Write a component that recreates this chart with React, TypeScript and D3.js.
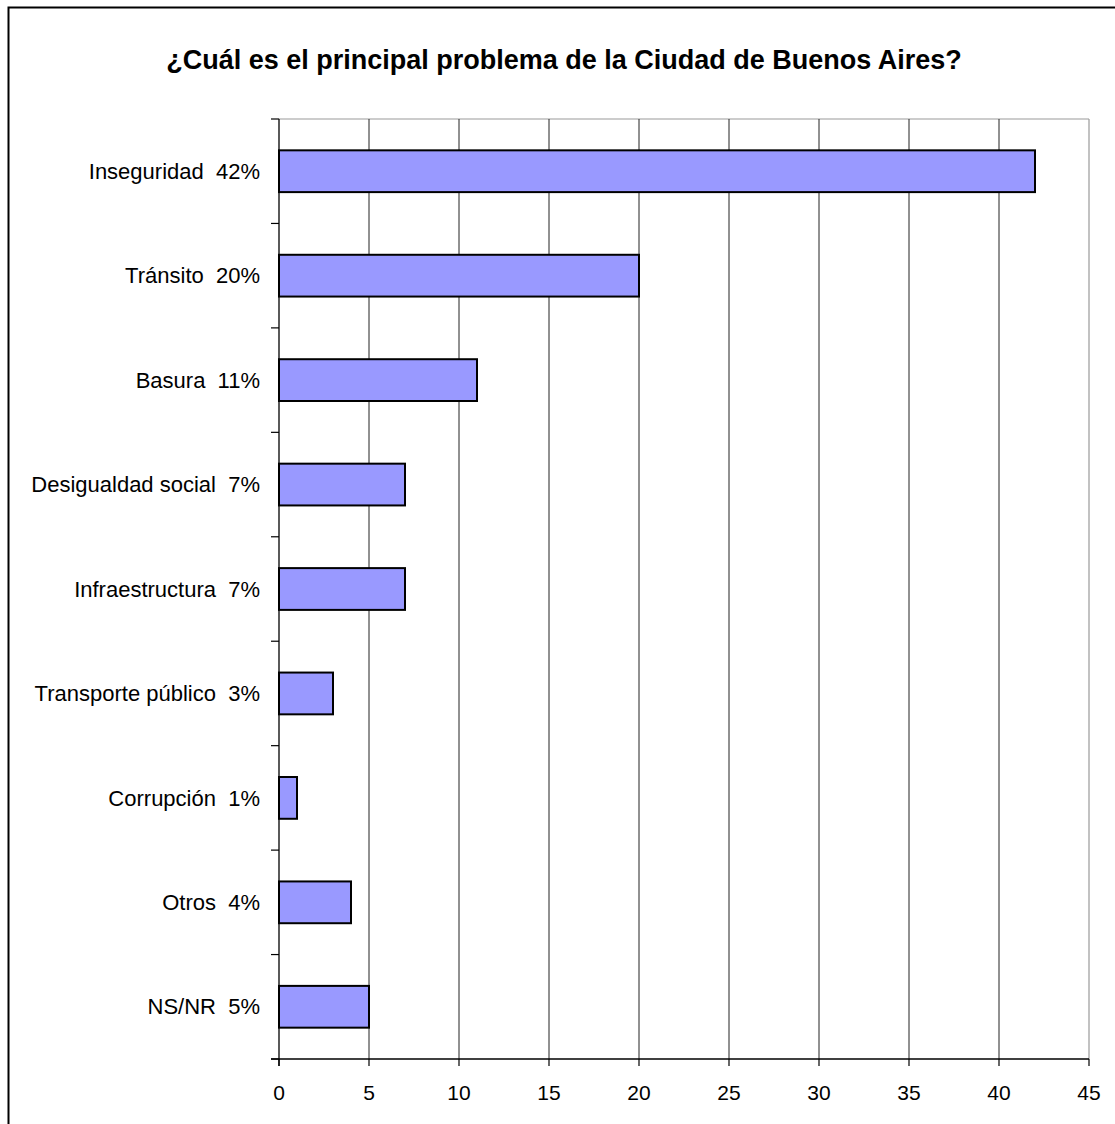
import React from "react";
import * as d3 from "d3";

const categories = [
  "Inseguridad  42%",
  "Tránsito  20%",
  "Basura  11%",
  "Desigualdad social  7%",
  "Infraestructura  7%",
  "Transporte público  3%",
  "Corrupción  1%",
  "Otros  4%",
  "NS/NR  5%",
];
const values = [42, 20, 11, 7, 7, 3, 1, 4, 5];
const xTicks = [0, 5, 10, 15, 20, 25, 30, 35, 40, 45];
const title = "¿Cuál es el principal problema de la Ciudad de Buenos Aires?";

export default function App() {
  const W = 1115, H = 1124;
  const left = 279, right = 1089, top = 119, bottom = 1059;
  const x = d3.scaleLinear().domain([0, 45]).range([left, right]);
  const y = d3.scaleBand().domain(categories).range([top, bottom]).paddingInner(0.6).paddingOuter(0.3);
  const step = (bottom - top) / categories.length;
  const font = "'Liberation Sans', Arial, sans-serif";
  return (
    <svg width={W} height={H} style={{ position: "absolute", left: 0, top: 0 }} fontFamily={font}>
      <rect x={0} y={0} width={W} height={H} fill="#fff" />
      <rect x={8.5} y={7.5} width={1120} height={1130} fill="none" stroke="#000" strokeWidth={2} />
      <text x={564} y={60} dy="0.35em" textAnchor="middle" fontSize={27} fontWeight="bold">{title}</text>
      {/* plot border top/right */}
      <line x1={left} x2={right} y1={top} y2={top} stroke="#999" strokeWidth={1.2} />
      <line x1={right} x2={right} y1={top} y2={bottom} stroke="#999" strokeWidth={1.2} />
      {/* gridlines */}
      {xTicks.slice(1, -1).map((t) => (
        <line key={t} x1={x(t)} x2={x(t)} y1={top} y2={bottom} stroke="#222" strokeWidth={1} />
      ))}
      {/* bars */}
      {categories.map((c, i) => (
        <rect key={c} x={x(0)} y={y(c)!} width={x(values[i]) - x(0)} height={y.bandwidth()}
          fill="#9999FF" stroke="#000" strokeWidth={2} />
      ))}
      {/* y axis */}
      <line x1={left} x2={left} y1={top} y2={bottom + 7} stroke="#000" strokeWidth={1.3} />
      {d3.range(categories.length + 1).map((i) => (
        <line key={i} x1={left - 8} x2={left} y1={top + i * step} y2={top + i * step} stroke="#000" strokeWidth={1.2} />
      ))}
      {categories.map((c) => (
        <text key={c} x={260} y={y(c)! + y.bandwidth() / 2} dy="0.35em" textAnchor="end" fontSize={22}
          style={{ whiteSpace: "pre" }}>{c}</text>
      ))}
      {/* x axis */}
      <line x1={left - 8} x2={right} y1={bottom} y2={bottom} stroke="#000" strokeWidth={1.3} />
      {xTicks.map((t) => (
        <g key={t}>
          <line x1={x(t)} x2={x(t)} y1={bottom} y2={bottom + 7} stroke="#000" strokeWidth={1.2} />
          <text x={x(t)} y={1093} dy="0.35em" textAnchor="middle" fontSize={21}>{t}</text>
        </g>
      ))}
    </svg>
  );
}
